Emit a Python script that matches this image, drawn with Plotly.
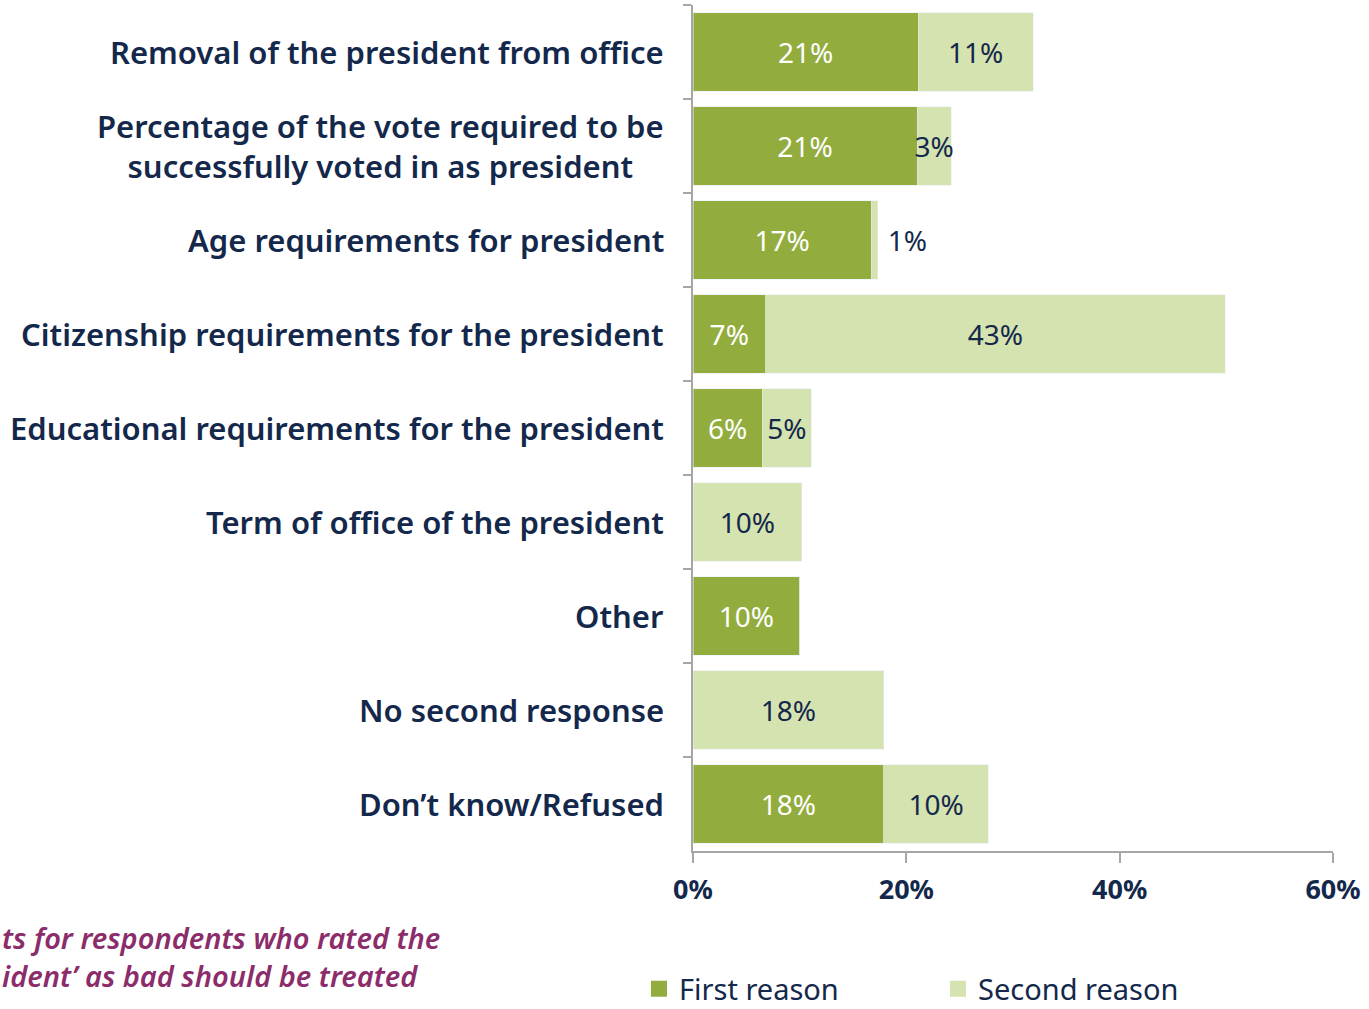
import plotly.graph_objects as go

categories = [
    "Removal of the president from office",
    "Percentage of the vote required to be<br>successfully voted in as president",
    "Age requirements for president",
    "Citizenship requirements for the president",
    "Educational requirements for the president",
    "Term of office of the president",
    "Other",
    "No second response",
    "Don’t know/Refused",
]
first_reason = [21.1, 21.0, 16.7, 6.8, 6.5, 0, 10.0, 0, 17.9]
second_reason = [10.8, 3.2, 0.6, 43.1, 4.6, 10.2, 0, 17.9, 9.8]
x_ticks = [0, 20, 40, 60]
x_tick_labels = ["0%", "20%", "40%", "60%"]
note_lines = ["ts for respondents who rated the", "ident’ as bad should be treated"]

NAVY = "#14284B"
GREEN = "#92AD3E"
LIGHT = "#D5E3B0"
AXIS = "#A6A6A6"
FONT = "Noto Sans"

W, H = 1369, 1009
ML, MR, MT, MB = 693, 36, 5, 158
PW = W - ML - MR
PH = H - MT - MB


def labels(vals, outside=False):
    out = []
    for v in vals:
        if not v:
            out.append("")
        elif outside and v < 2:
            out.append("\u00a0" + f"{round(v)}%")
        else:
            out.append(f"{round(v)}%")
    return out


second_pos = ["outside" if (v and v < 2) else "inside" for v in second_reason]

fig = go.Figure()
fig.add_trace(go.Bar(
    y=categories, x=first_reason, orientation="h", name="First reason",
    marker=dict(color=GREEN), text=labels(first_reason), textposition="inside",
    insidetextanchor="middle", textangle=0,
    textfont=dict(color="white", size=28, family=FONT),
    constraintext="none", showlegend=False,
))
fig.add_trace(go.Bar(
    y=categories, x=second_reason, orientation="h", name="Second reason",
    marker=dict(color=LIGHT), text=labels(second_reason, outside=True),
    textposition=second_pos, insidetextanchor="middle", textangle=0,
    textfont=dict(color=NAVY, size=28, family=FONT),
    constraintext="none", cliponaxis=False, showlegend=False,
))
# legend entries
for nm, col in [("First reason", GREEN), ("Second reason", LIGHT)]:
    fig.add_trace(go.Scatter(
        x=[None], y=[None], mode="markers", name=nm,
        marker=dict(symbol="square", size=16, color=col),
    ))

# category labels (centered multi-line, right anchored)
for c in categories:
    fig.add_annotation(
        x=-27 / PW, xref="paper", y=c, yref="y", text=c, showarrow=False,
        xanchor="right", yanchor="middle", align="center",
        font=dict(family=FONT, size=31, color=NAVY, weight=600),
    )

# bottom-left note
fig.add_annotation(
    x=-ML / PW, xref="paper", y=-(105) / PH, yref="paper",
    text="<br>".join(note_lines), showarrow=False, xanchor="left", yanchor="middle",
    align="left",
    font=dict(family=FONT, size=29, color="#8B2C6B", style="italic", weight=600),
)

fig.update_layout(
    width=W, height=H,
    margin=dict(l=ML, r=MR, t=MT, b=MB),
    paper_bgcolor="white", plot_bgcolor="white",
    barmode="stack", bargap=0.16,
    font=dict(family=FONT, color=NAVY),
    xaxis=dict(
        range=[0, 60], tickvals=x_ticks, ticktext=x_tick_labels,
        showgrid=False, zeroline=False, showline=True, linecolor=AXIS, linewidth=2,
        ticks="outside", ticklen=10, tickwidth=2, tickcolor=AXIS,
        ticklabelstandoff=4, automargin=False,
        tickfont=dict(family=FONT, size=27, color=NAVY, weight=700),
        fixedrange=True,
    ),
    yaxis=dict(
        autorange="reversed", showticklabels=False, showgrid=False, zeroline=False,
        showline=True, linecolor=AXIS, linewidth=2, automargin=False,
        ticks="outside", tickson="boundaries", ticklen=8, tickwidth=2, tickcolor=AXIS,
        fixedrange=True,
    ),
    legend=dict(
        orientation="h", traceorder="normal",
        xref="container", x=639 / W, xanchor="left",
        yref="container", y=(H - 989) / H, yanchor="middle",
        font=dict(family=FONT, size=29, color=NAVY),
        entrywidth=254, entrywidthmode="pixels", itemclick=False, itemdoubleclick=False,
        bgcolor="rgba(0,0,0,0)",
    ),
)

fig.write_html("out.html", config={"displayModeBar": False},
               post_script="document.body.style.margin='0';")
